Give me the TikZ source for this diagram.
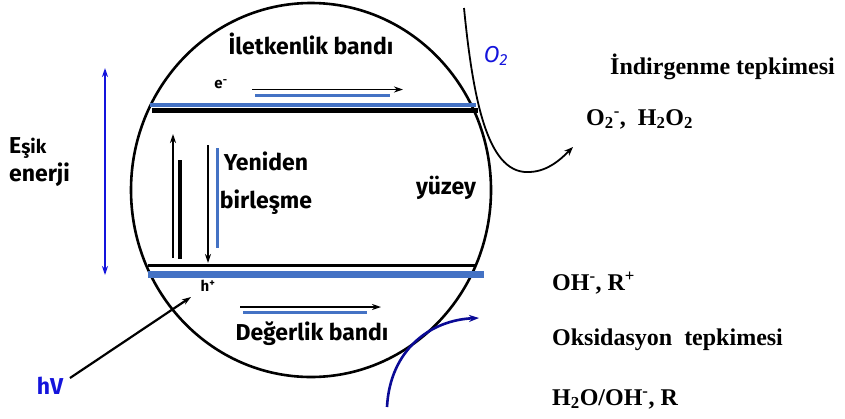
\documentclass[tikz,border=0pt]{standalone}
\usepackage{fontspec}
\setmainfont{Fira Sans}
\newfontfamily\serifbold{Liberation Serif}
\usetikzlibrary{arrows.meta}
\definecolor{bandblue}{RGB}{68,114,196}
\definecolor{pureblue}{RGB}{20,20,220}
\definecolor{navy}{RGB}{10,10,150}
\begin{document}
\begin{tikzpicture}[x=1pt,y=-1pt,
  lbl/.style={inner sep=0pt,font=\fontsize{23}{26}\selectfont\bfseries},
  small/.style={inner sep=0pt,font=\fontsize{15}{16}\selectfont\bfseries},
  rtxt/.style={inner sep=0pt,anchor=west,font=\fontsize{24}{26}\selectfont\serifbold\bfseries},
  arr/.style={line width=1.8pt,-{Stealth[length=9pt,width=6pt]}},
  bline/.style={line width=3pt,bandblue}]
\useasboundingbox (0,0) rectangle (845,418);
% particle
\draw[line width=2.6pt] (311,190) ellipse [x radius=180, y radius=187];
% conduction band
\draw[bline,line width=4pt] (150,105) -- (476,105);
\draw[line width=4.5pt] (152,110.5) -- (478,110.5);
% valence band
\draw[line width=3.5pt] (148,265.5) -- (476,265.5);
\draw[bline,line width=7pt] (148,274) -- (484,274);
% texts in particle
\node[lbl] (cb) at (311,44) {İletkenlik bandı};
\node[small] (e) at (221,84) {e\textsuperscript{-}};
\node[lbl] (yen) at (266,161) {Yeniden};
\node[lbl] (bir) at (266,202) {birleşme};
\node[lbl] (yuz) at (446,188) {yüzey};
\node[small] (h) at (208,286) {h\textsuperscript{+}};
\node[lbl] (vb) at (312,334) {Değerlik bandı};
% electron flow in CB
\coordinate (cba) at (252,89.5); \coordinate (cbb) at (403,89.5);
\draw[bline] (255,95) -- (390,95);
\draw[arr] (cba) -- (cbb);
% hole flow in VB
\coordinate (vba) at (240,307); \coordinate (vbb) at (381,307);
\draw[bline] (243,312) -- (367,312);
\draw[arr] (vba) -- (vbb);
% excitation and recombination arrows
\coordinate (upa) at (173,258); \coordinate (upb) at (173,134);
\draw[line width=3.5pt] (180,160) -- (180,259);
\draw[arr,line width=1.5pt] (upa) -- (upb);
\coordinate (dna) at (208,145); \coordinate (dnb) at (208,263);
\draw[bline] (217,148) -- (217,248);
\draw[arr,line width=1.5pt] (dna) -- (dnb);
% threshold energy
\coordinate (ta) at (105,68); \coordinate (tb) at (105,275);
\draw[pureblue,line width=2pt,{Stealth[length=9pt,width=6pt]}-{Stealth[length=9pt,width=6pt]}] (ta) -- (tb);
\node[lbl,anchor=west] (esik) at (9,148) {E{\fontsize{19}{20}\selectfont şik}};
\node[lbl,anchor=west] (ener) at (9,175) {enerji};
% light
\node[lbl,pureblue] (hv) at (50,386) {hV};
\coordinate (hva) at (70,378); \coordinate (hvb) at (191,297);
\draw[arr,line width=2.2pt] (hva) -- (hvb);
% O2 path
\node[inner sep=0pt,pureblue,font=\fontsize{23}{24}\selectfont\itshape] (o2) at (496,56) {O\textsubscript{2}};
\coordinate (o2a) at (464,8); \coordinate (o2m) at (530,172); \coordinate (o2b) at (573,147);
\draw[line width=1.8pt,-{Stealth[length=9pt,width=7pt]}] (o2a) .. controls (474,110) and (490,175) .. (o2m) .. controls (548,171) and (560,160) .. (o2b);
% oxidation arrow
\coordinate (oxa) at (387,407); \coordinate (oxb) at (479,318);
\draw[navy,line width=2.6pt,-{Stealth[length=10pt,width=7pt]}] (oxa) .. controls (390,350) and (430,320) .. (oxb);
% right texts
\node[rtxt] (ind) at (610,67) {İndirgenme tepkimesi};
\node[rtxt] (red) at (586,119) {O\textsubscript{2}\textsuperscript{-},\ \ H\textsubscript{2}O\textsubscript{2}};
\node[rtxt] (ohr) at (552,283) {OH\textsuperscript{-}, R\textsuperscript{+}};
\node[rtxt] (oks) at (552,340) {Oksidasyon\ \ tepkimesi};
\node[rtxt] (hoh) at (552,399) {H\textsubscript{2}O/OH\textsuperscript{-}, R};
\end{tikzpicture}
\end{document}
